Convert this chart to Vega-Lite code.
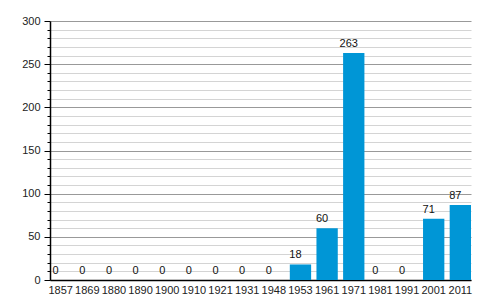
{
  "$schema": "https://vega.github.io/schema/vega-lite/v6.json",
  "width": 421,
  "height": 259,
  "autosize": {"type": "none"},
  "padding": {"left": 50, "top": 21, "right": 29, "bottom": 20},
  "background": "white",
  "config": {
    "view": {"stroke": null},
    "font": "Liberation Sans",
    "axis": {"labelFont": "Liberation Sans", "labelFontSize": 11, "labelColor": "#222"}
  },
  "data": {
    "values": [
      {"year": "1857", "value": 0},
      {"year": "1869", "value": 0},
      {"year": "1880", "value": 0},
      {"year": "1890", "value": 0},
      {"year": "1900", "value": 0},
      {"year": "1910", "value": 0},
      {"year": "1921", "value": 0},
      {"year": "1931", "value": 0},
      {"year": "1948", "value": 0},
      {"year": "1953", "value": 18},
      {"year": "1961", "value": 60},
      {"year": "1971", "value": 263},
      {"year": "1981", "value": 0},
      {"year": "1991", "value": 0},
      {"year": "2001", "value": 71},
      {"year": "2011", "value": 87}
    ]
  },
  "encoding": {
    "x": {
      "field": "year", "type": "ordinal", "sort": null,
      "scale": {"paddingInner": 0.2, "paddingOuter": 0},
      "axis": {"title": null, "labelAngle": 0, "ticks": false, "domainColor": "#000", "domainWidth": 1.5, "labelPadding": 4, "grid": false}
    },
    "y": {
      "field": "value", "type": "quantitative",
      "scale": {"domain": [0, 300], "nice": false},
      "axis": {
        "title": null,
        "values": [0,10,20,30,40,50,60,70,80,90,100,110,120,130,140,150,160,170,180,190,200,210,220,230,240,250,260,270,280,290,300],
        "labelExpr": "datum.value % 50 === 0 ? datum.label : ''",
        "grid": true,
        "gridColor": {"condition": {"test": "datum.value % 50 === 0", "value": "#999999"}, "value": "#d4d4d4"},
        "gridWidth": 1,
        "tickColor": "#000",
        "tickSize": {"condition": {"test": "datum.value % 50 === 0", "value": 6}, "value": 3},
        "domainColor": "#000",
        "domainWidth": 1.5,
        "labelPadding": 4
      }
    }
  },
  "layer": [
    {"mark": {"type": "bar", "color": "#0096d6"}},
    {
      "mark": {"type": "text", "baseline": "bottom", "dy": -4, "dx": -5, "fontSize": 11, "color": "#111"},
      "encoding": {"text": {"field": "value", "type": "quantitative"}}
    }
  ]
}
